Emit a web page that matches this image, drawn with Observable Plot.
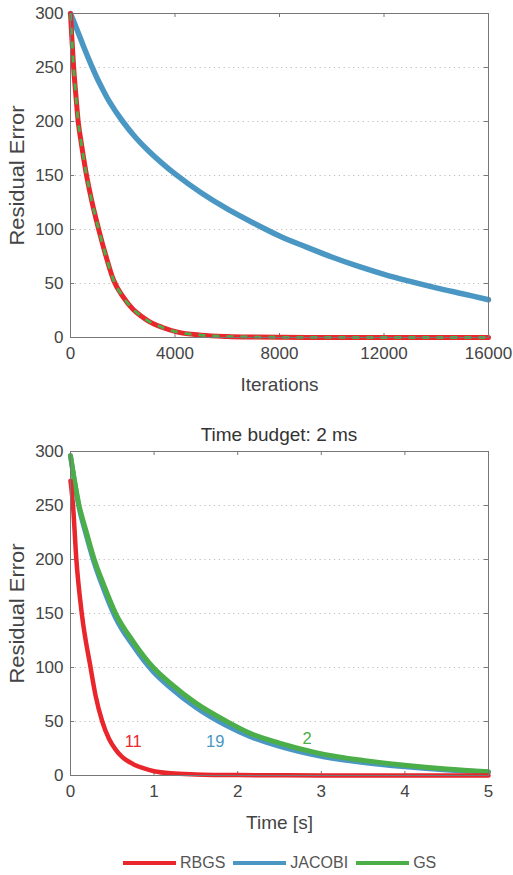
<!DOCTYPE html>
<html><head><meta charset="utf-8">
<script src="https://cdn.jsdelivr.net/npm/d3@7"></script>
<script src="https://cdn.jsdelivr.net/npm/@observablehq/plot@0.6"></script>
<style>
body{margin:0;background:#fff;font-family:"Liberation Sans",Arial,sans-serif;color:#444;}
#wrap{width:513px;}
.title{height:45px;position:relative;}
.title span{position:absolute;left:70px;width:418px;top:29px;text-align:center;font-size:19px;line-height:22px;color:#333;}
.legend{height:45px;position:relative;}
.legend .items{position:absolute;top:24px;left:123px;display:flex;align-items:center;font-size:16px;line-height:18px;color:#555;}
.legend .sw{display:inline-block;width:53px;height:4px;margin-right:4px;}
.legend .lab{margin-right:8px;}
svg{display:block;}
</style></head><body><div id="wrap"></div><script>
// ---------- data ----------
const seriesNames = ["RBGS", "JACOBI", "GS"];
const seriesColors = ["#e8262b", "#4a97c3", "#4cae48"];
const iterTicks = [0, 4000, 8000, 12000, 16000];
const timeTicks = [0, 1, 2, 3, 4, 5];
const errTicks = [0, 50, 100, 150, 200, 250, 300];

// top chart: residual error vs iterations
const topRbgsIter = [0, 50, 120, 200, 294, 400, 600, 800, 1080, 1350, 1650, 2000, 2400, 2700, 3000, 3500, 4100, 5000, 6000, 7000, 8000, 10000, 12000, 16000];
const topRbgsErr  = [300, 278, 250, 226, 200, 182, 152, 128, 100, 76, 53, 38, 26, 20, 15, 9.5, 5, 2.2, 0.9, 0.4, 0.2, 0.05, 0, 0];
const topGsIter   = [0, 50, 120, 200, 294, 400, 600, 800, 1080, 1350, 1650, 2000, 2400, 2700, 3000, 3500, 4100, 5000, 6000, 7000, 8000, 10000, 12000, 16000];
const topGsErr    = [300, 278, 250, 226, 200, 182, 152, 128, 100, 76, 53, 38, 26, 20, 15, 9.5, 5, 2.2, 0.9, 0.4, 0.2, 0.05, 0, 0];
const topJacobiIter = [0, 250, 500, 800, 1000, 1250, 1500, 2000, 2500, 3000, 3500, 4000, 5000, 6000, 7000, 8000, 9000, 10000, 11000, 12000, 13000, 14000, 15000, 16000];
const topJacobiErr  = [300, 285, 269.5, 252, 241, 229, 218, 200, 185, 172.5, 161.5, 151.5, 134, 119, 106, 94, 84, 74.5, 66, 58.5, 52, 46, 40.5, 35];

// bottom chart: residual error vs time, budget 2 ms
const botRbgsTime = [0, 0.03, 0.07, 0.135, 0.24, 0.3, 0.38, 0.46, 0.54, 0.62, 0.75, 0.88, 1.0, 1.2, 1.5, 2, 3, 4, 5];
const botRbgsErr  = [273, 250, 200, 150, 100, 74, 50, 34, 24, 17, 10.5, 6.5, 4, 2, 1, 0.4, 0.1, 0, 0];
const botJacobiTime = [0, 0.05, 0.1, 0.18, 0.28, 0.4, 0.54, 0.75, 0.99, 1.2, 1.5, 1.87, 2.15, 2.5, 2.95, 3.5, 4.0, 4.5, 5.0];
const botJacobiErr  = [296, 271, 249, 225, 198, 172, 146, 120, 96, 81, 63, 46, 36, 27, 18.5, 12, 8, 5, 3];
const botGsTime = [0, 0.05, 0.1, 0.18, 0.28, 0.4, 0.54, 0.75, 0.99, 1.2, 1.5, 1.87, 2.15, 2.5, 2.95, 3.5, 4.0, 4.5, 5.0];
const botGsErr  = [296, 272, 251, 228, 201, 176, 150, 124, 100, 85, 67, 50, 39, 30, 21, 14, 9.5, 6, 3.5];

// iteration-count annotations
const countLabels = ["11", "19", "2"];
const countTime = [0.75, 1.73, 2.83];
const countErr = [31, 31, 34];

// ---------- helpers ----------
const zip = (xs, ys) => xs.map((x, i) => ({x, y: ys[i]}));
const W = 513, ML = 70, MR = 25;
const tickColor = "#777";

function chartFrame(xTicks, plotH, plotW) {
  return [
    Plot.gridY(errTicks.slice(1, -1), {stroke: "#bdbdbd", strokeOpacity: 1, strokeDasharray: "1.2,3.6"}),
    Plot.gridX(xTicks.slice(1, -1), {stroke: tickColor, strokeOpacity: 1, insetBottom: plotH - 4}),
    Plot.gridX(xTicks.slice(1, -1), {stroke: tickColor, strokeOpacity: 1, insetTop: plotH - 4}),
    Plot.gridY(errTicks.slice(1, -1), {stroke: tickColor, strokeOpacity: 1, insetRight: plotW - 4}),
    Plot.gridY(errTicks.slice(1, -1), {stroke: tickColor, strokeOpacity: 1, insetLeft: plotW - 4})
  ];
}
function axes(xTicks, xLabel, fmt) {
  return [
    Plot.axisY(errTicks, {anchor: "left", tickSize: 0, tickPadding: 7, fontSize: 17, fill: "#444", label: null}),
    Plot.axisY(errTicks, {anchor: "left", tickSize: 0, tickFormat: () => "", fontSize: 20, fill: "#444",
      label: "Residual Error", labelAnchor: "center", labelArrow: "none", labelOffset: 61}),
    Plot.axisX(xTicks, {anchor: "bottom", tickSize: 0, tickPadding: 9, fontSize: 17, fill: "#444", tickFormat: fmt, label: null}),
    Plot.axisX(xTicks, {anchor: "bottom", tickSize: 0, tickFormat: () => "", fontSize: 19, fill: "#444",
      label: xLabel, labelAnchor: "center", labelArrow: "none", labelOffset: 53}),
    Plot.frame({stroke: tickColor, strokeWidth: 1})
  ];
}
function fitYLabel(svg) {
  svg.querySelectorAll("g[aria-label='y-axis label'] text").forEach(t => {
    t.setAttribute("textLength", 140);
    t.setAttribute("lengthAdjust", "spacingAndGlyphs");
  });
}

const wrap = document.getElementById("wrap");

// ---------- top chart ----------
{
  const H = 395, MT = 13, MB = 58;
  const plotH = H - MT - MB, plotW = W - ML - MR;
  const p = Plot.plot({
    width: W, height: H, marginLeft: ML, marginRight: MR, marginTop: MT, marginBottom: MB,
    style: {fontFamily: "'Liberation Sans', Arial, sans-serif", background: "transparent", overflow: "visible"},
    x: {domain: [0, 16000]},
    y: {domain: [0, 300]},
    marks: [
      ...chartFrame(iterTicks, plotH, plotW),
      Plot.line(zip(topJacobiIter, topJacobiErr), {x: "x", y: "y", stroke: seriesColors[1], strokeWidth: 5.5, curve: "catmull-rom"}),
      Plot.line(zip(topRbgsIter, topRbgsErr), {x: "x", y: "y", stroke: seriesColors[0], strokeWidth: 5, curve: "monotone-x"}),
      Plot.line(zip(topGsIter, topGsErr), {x: "x", y: "y", stroke: seriesColors[2], strokeWidth: 2.8, strokeDasharray: "7,7", strokeLinecap: "butt", curve: "monotone-x"}),
      ...axes(iterTicks, "Iterations", d3.format("d"))
    ]
  });
  fitYLabel(p);
  wrap.appendChild(p);
}

// ---------- title ----------
{
  const t = document.createElement("div");
  t.className = "title";
  t.innerHTML = "<span>Time budget: 2 ms</span>";
  wrap.appendChild(t);
}

// ---------- bottom chart ----------
{
  const H = 390, MT = 11, MB = 55;
  const plotH = H - MT - MB, plotW = W - ML - MR;
  const p = Plot.plot({
    width: W, height: H, marginLeft: ML, marginRight: MR, marginTop: MT, marginBottom: MB,
    style: {fontFamily: "'Liberation Sans', Arial, sans-serif", background: "transparent", overflow: "visible"},
    x: {domain: [0, 5]},
    y: {domain: [0, 300]},
    marks: [
      ...chartFrame(timeTicks, plotH, plotW),
      Plot.line(zip(botJacobiTime, botJacobiErr), {x: "x", y: "y", stroke: seriesColors[1], strokeWidth: 5, curve: "monotone-x"}),
      Plot.line(zip(botGsTime, botGsErr), {x: "x", y: "y", stroke: seriesColors[2], strokeWidth: 5, curve: "monotone-x"}),
      Plot.line(zip(botRbgsTime, botRbgsErr), {x: "x", y: "y", stroke: seriesColors[0], strokeWidth: 4.5, curve: "monotone-x"}),
      Plot.text(countLabels.map((s, i) => ({s, x: countTime[i], y: countErr[i], c: seriesColors[i]})),
        {x: "x", y: "y", text: "s", fill: d => d.c, fontSize: 16.5}),
      ...axes(timeTicks, "Time [s]", d3.format("d"))
    ]
  });
  fitYLabel(p);
  wrap.appendChild(p);
}

// ---------- legend ----------
{
  const l = document.createElement("div");
  l.className = "legend";
  l.innerHTML = '<div class="items">' + seriesNames.map((n, i) =>
    `<span class="sw" style="background:${seriesColors[i]}"></span><span class="lab">${n}</span>`).join("") + "</div>";
  wrap.appendChild(l);
}
</script></body></html>
